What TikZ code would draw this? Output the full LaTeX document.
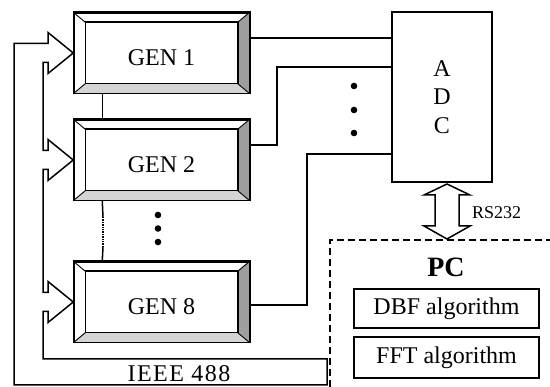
\documentclass[tikz,border=0pt]{standalone}
\usepackage{fontspec}
\setmainfont{Liberation Serif}
\usetikzlibrary{calc}
\tikzset{
  ln/.style={line width=1.5pt},
  genbox/.style={draw, line width=1.5pt, fill=white, minimum width=175pt, minimum height=80pt, inner sep=0pt,
    text height=25pt, text depth=0pt, font=\fontsize{24}{28}\selectfont},
  algbox/.style={draw, line width=1.5pt, minimum width=185pt, inner sep=0pt, font=\fontsize{24}{28}\selectfont},
  bus/.style={line width=1.5pt, line join=miter},
  dotmark/.style={fill=black},
  pcline/.style={line width=1.9pt, dash pattern=on 7pt off 4pt},
}
\colorlet{bevright}{black!38}
\colorlet{bevbot}{black!17}
\newcommand{\bevelgen}[1]{%
  \fill[bevright] (#1.north east) -- (#1.south east) -- ([shift={(-12pt,10pt)}]#1.south east) -- ([shift={(-12pt,-10pt)}]#1.north east) -- cycle;
  \fill[bevbot] (#1.south west) -- (#1.south east) -- ([shift={(-12pt,10pt)}]#1.south east) -- ([shift={(12pt,10pt)}]#1.south west) -- cycle;
  \draw[ln] ([shift={(12pt,10pt)}]#1.south west) rectangle ([shift={(-12pt,-10pt)}]#1.north east);
  \draw[line width=0.9pt] (#1.north west) -- ([shift={(12pt,-10pt)}]#1.north west)
    (#1.north east) -- ([shift={(-12pt,-10pt)}]#1.north east)
    (#1.south west) -- ([shift={(12pt,10pt)}]#1.south west)
    (#1.south east) -- ([shift={(-12pt,10pt)}]#1.south east);
  \draw[ln] (#1.south west) rectangle (#1.north east);
}
\begin{document}
\begin{tikzpicture}[x=1pt,y=-1pt]
\useasboundingbox (0,0) rectangle (550,387);

% generators
\node[genbox] (g1) at (161.5,53) {GEN 1};
\bevelgen{g1}
\node[genbox] (g2) at (161.5,160) {GEN 2};
\bevelgen{g2}
\node[genbox] (g8) at (161.5,302) {GEN 8};
\bevelgen{g8}

% links between generators
\draw[ln] ([xshift=29pt]g1.south west) -- ([xshift=29pt]g2.north west);
\coordinate (d1) at (103,217);
\coordinate (d2) at (103,247);
\draw[ln] ([xshift=29pt]g2.south west) -- (d1);
\draw[line width=1.4pt, densely dotted] (d1) -- (d2);
\draw[ln] (d2) -- ([xshift=29pt]g8.north west);

% dots between generators
\fill[dotmark] (158,215) circle (3.3);
\fill[dotmark] (158,228.5) circle (3.3);
\fill[dotmark] (158,242) circle (3.3);

% ADC
\node[draw, line width=1.5pt, minimum width=100pt, minimum height=170pt, inner sep=0pt, align=center,
  font=\fontsize{24}{28.5}\selectfont] (adc) at (442,97) {A\\D\\C};

% outputs
\draw[ln] ([yshift=15pt]g1.east) -- ([yshift=15pt]g1.east -| adc.west);
\coordinate (k2) at (277,67);
\draw[ln] ([yshift=15pt]g2.east) -| (k2) -- (k2 -| adc.west);
\coordinate (k8) at (307,154);
\draw[ln] ([yshift=-3pt]g8.east) -| (k8) -- (k8 -| adc.west);

% dots between outputs
\fill[dotmark] (354,86) circle (3.3);
\fill[dotmark] (354,110) circle (3.3);
\fill[dotmark] (354,133) circle (3.3);

% IEEE 488 bus
\draw[bus] (14,385) -- (14,43.5) -- (48,43.5) -- (48,32.5) -- (g1.west) -- (48,73.5) -- (48,62.5)
  -- (43,62.5) -- (43,150.5) -- (48,150.5) -- (48,139.5) -- (g2.west) -- (48,180.5) -- (48,169.5)
  -- (43,169.5) -- (43,292.5) -- (48,292.5) -- (48,281.5) -- (g8.west) -- (48,322.5) -- (48,311.5)
  -- (43,311.5) -- (43,359) -- (327,359) -- (327,385) -- cycle;
\node[anchor=base, font=\fontsize{24}{28}\selectfont\addfontfeature{LetterSpace=6}, inner sep=0pt] (ieee) at (179,382) {IEEE 488};

% RS232 link
\coordinate (rt) at (447,184);
\coordinate (rb) at (447,239);
\draw[line width=1.5pt, fill=white] (rt) -- (470,195) -- (459,195) -- (459,226) -- (470,226) -- (rb)
  -- (424,226) -- (435,226) -- (435,195) -- (424,195) -- cycle;
\node[anchor=base west, font=\fontsize{18}{20}\selectfont, inner sep=0pt] (rs) at (472,219) {RS232};

% PC
\draw[pcline] (330,387) -- (330,240) -- (550,240);
\node[anchor=base, font=\fontsize{28}{30}\bfseries, inner sep=0pt] (pc) at (446,277) {PC};
\node[algbox, minimum height=39pt] (dbf) at (446.5,308.5) {DBF algorithm};
\node[algbox, minimum height=41pt] (fft) at (446.5,357.5) {FFT algorithm};
\end{tikzpicture}
\end{document}
